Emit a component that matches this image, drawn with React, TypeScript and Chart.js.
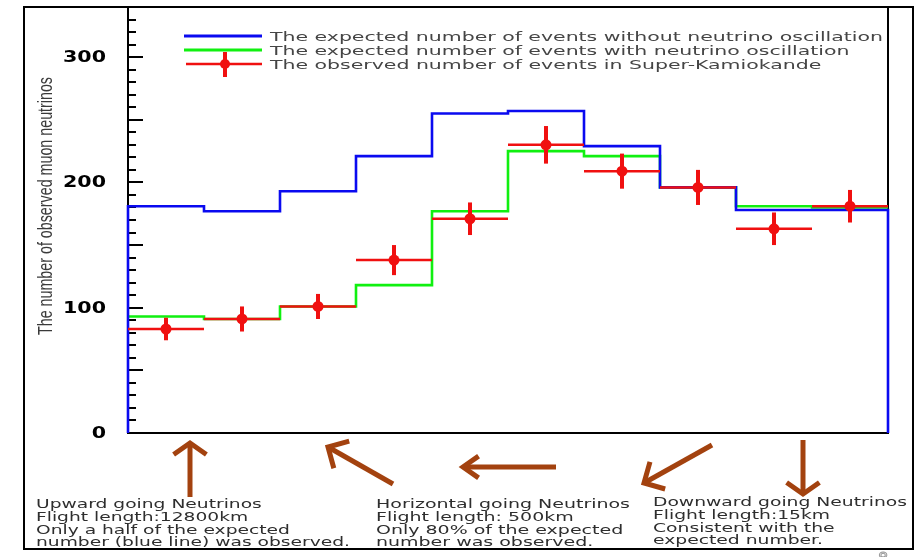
import React, { useEffect, useRef } from "react";
import { Chart, registerables } from "chart.js";

Chart.register(...registerables);

// ---- data (10 zenith-angle bins, upward -> downward) ----
const binLabels = ["1", "2", "3", "4", "5", "6", "7", "8", "9", "10"];
const expectedNoOsc = [181, 177, 193, 221, 255, 257, 229, 196, 178, 178];
const expectedOsc = [93, 91, 101, 118, 177, 225, 221, 196, 181, 180];
const observed = [83, 91, 101, 138, 171, 230, 209, 196, 163, 181];
const observedErr = [9, 10, 10, 12, 13, 15, 14, 14, 13, 13];
const yTickLabels = [0, 100, 200, 300];
const yMax = 340;

const legendLabels = [
  "The expected number of events without neutrino oscillation",
  "The expected number of events with neutrino oscillation",
  "The observed number of events in Super-Kamiokande",
];
const yTitle = "The number of observed muon neutrinos";

const noteUp = [
  "Upward going Neutrinos",
  "Flight length:12800km",
  "Only a half of the expected",
  "number (blue line) was observed.",
];
const noteHorizontal = [
  "Horizontal going Neutrinos",
  "Flight length: 500km",
  "Only 80% of the expected",
  "number was observed.",
];
const noteDown = [
  "Downward going Neutrinos",
  "Flight length:15km",
  "Consistent with the",
  "expected number.",
];

// ---- styles / layout ----
const BLUE = "#0a0af0";
const GREEN = "#10f010";
const RED = "#f01010";
const BROWN = "#a3420f";

const noteBlocks = [
  { lines: noteUp, x: 36, base: 508, ref: 3, width: 314 },
  { lines: noteHorizontal, x: 376, base: 508, ref: 0, width: 254 },
  { lines: noteDown, x: 653, base: 506, ref: 0, width: 254 },
];
// tail x, tail y, tip x, tip y, half-angle (deg), arm length
const arrows = [
  [190, 497, 190, 443, 55, 20],
  [393, 484, 328, 447, 45, 22],
  [556, 467, 463, 467, 35, 19],
  [712, 445, 644, 483, 45, 22],
  [803, 440, 803, 494, 55, 20],
];

function stretchedText(
  ctx: CanvasRenderingContext2D,
  text: string,
  x: number,
  y: number,
  sx: number,
  align: CanvasTextAlign = "left"
) {
  ctx.save();
  ctx.translate(x, y);
  ctx.scale(sx, 1);
  ctx.textAlign = align;
  ctx.fillText(text, 0, 0);
  ctx.restore();
}

const decorPlugin = {
  id: "decor",
  beforeDraw(chart: any) {
    const ctx = chart.ctx as CanvasRenderingContext2D;
    ctx.save();
    ctx.fillStyle = "#ffffff";
    ctx.fillRect(0, 0, chart.width, chart.height);
    ctx.restore();
  },
  beforeDatasetsDraw(chart: any) {
    const ctx = chart.ctx as CanvasRenderingContext2D;
    const { left, right, top, bottom } = chart.chartArea;
    const y = chart.scales.y;
    ctx.save();
    // axes box
    ctx.strokeStyle = "#000";
    ctx.lineWidth = 2;
    ctx.beginPath();
    ctx.moveTo(left, top);
    ctx.lineTo(left, bottom);
    ctx.lineTo(right, bottom);
    ctx.lineTo(right, top);
    ctx.stroke();
    // inward ticks
    ctx.lineWidth = 2;
    for (let v = 10; v < yMax; v += 10) {
      const py = Math.round(y.getPixelForValue(v));
      const len = v % 50 === 0 ? 15 : 8;
      ctx.beginPath();
      ctx.moveTo(left, py);
      ctx.lineTo(left + len, py);
      ctx.stroke();
    }
    // tick labels
    ctx.fillStyle = "#000";
    ctx.font = "bold 15px 'DejaVu Sans'";
    ctx.textBaseline = "middle";
    const lblScale = 43 / ctx.measureText("300").width;
    yTickLabels.forEach((v) => {
      stretchedText(ctx, String(v), left - 22, y.getPixelForValue(v) + 1, lblScale, "right");
    });
    // y title
    ctx.font = "21px 'Liberation Sans'";
    ctx.fillStyle = "#3a3a3a";
    ctx.textBaseline = "alphabetic";
    const tw = ctx.measureText(yTitle).width;
    ctx.translate(52, 206);
    ctx.rotate(-Math.PI / 2);
    ctx.scale(258 / tw, 1);
    ctx.textAlign = "center";
    ctx.fillText(yTitle, 0, 0);
    ctx.restore();
  },
  afterDatasetsDraw(chart: any) {
    const ctx = chart.ctx as CanvasRenderingContext2D;
    const xs = chart.scales.x;
    const ys = chart.scales.y;
    ctx.save();
    // error bars for observed
    ctx.strokeStyle = RED;
    ctx.fillStyle = RED;
    observed.forEach((v, i) => {
      const x0 = xs.getPixelForValue(i);
      const x1 = xs.getPixelForValue(i + 1);
      const xc = xs.getPixelForValue(i + 0.5);
      const yc = ys.getPixelForValue(v);
      ctx.lineWidth = 2.5;
      ctx.beginPath();
      ctx.moveTo(x0, yc);
      ctx.lineTo(x1, yc);
      ctx.stroke();
      ctx.lineWidth = 4;
      ctx.beginPath();
      ctx.moveTo(xc, ys.getPixelForValue(v + observedErr[i]));
      ctx.lineTo(xc, ys.getPixelForValue(v - observedErr[i]));
      ctx.stroke();
      ctx.beginPath();
      ctx.arc(xc, yc, 5.5, 0, Math.PI * 2);
      ctx.fill();
    });

    // legend
    const colors = [BLUE, GREEN, RED];
    const rowsY = [36, 50, 64];
    ctx.font = "13px 'DejaVu Sans'";
    const lscale = 613 / ctx.measureText(legendLabels[0]).width;
    legendLabels.forEach((t, i) => {
      ctx.strokeStyle = colors[i];
      ctx.lineWidth = i === 2 ? 2.5 : 3;
      ctx.beginPath();
      ctx.moveTo(i === 2 ? 186 : 184, rowsY[i]);
      ctx.lineTo(262, rowsY[i]);
      ctx.stroke();
      if (i === 2) {
        ctx.lineWidth = 4;
        ctx.beginPath();
        ctx.moveTo(225, rowsY[i] - 12);
        ctx.lineTo(225, rowsY[i] + 13);
        ctx.stroke();
        ctx.fillStyle = RED;
        ctx.beginPath();
        ctx.arc(225, rowsY[i], 5, 0, Math.PI * 2);
        ctx.fill();
      }
      ctx.fillStyle = "#454545";
      ctx.textBaseline = "alphabetic";
      stretchedText(ctx, t, 270, rowsY[i] + 4.8, lscale);
    });

    // arrows
    ctx.strokeStyle = BROWN;
    ctx.lineWidth = 5;
    ctx.lineCap = "butt";
    arrows.forEach(([tx, ty, hx, hy, ang, len]) => {
      ctx.beginPath();
      ctx.moveTo(tx, ty);
      ctx.lineTo(hx, hy);
      ctx.stroke();
      const dir = Math.atan2(ty - hy, tx - hx);
      const a = (ang * Math.PI) / 180;
      ctx.beginPath();
      ctx.moveTo(hx + Math.cos(dir + a) * len, hy + Math.sin(dir + a) * len);
      ctx.lineTo(hx, hy);
      ctx.lineTo(hx + Math.cos(dir - a) * len, hy + Math.sin(dir - a) * len);
      ctx.stroke();
    });

    // notes
    ctx.fillStyle = "#2e2e2e";
    ctx.font = "12px 'DejaVu Sans'";
    ctx.textBaseline = "alphabetic";
    noteBlocks.forEach((b) => {
      const s = b.width / ctx.measureText(b.lines[b.ref]).width;
      b.lines.forEach((t, i) => {
        stretchedText(ctx, t, b.x, b.base + i * 12.8, s);
      });
    });

    // outer frame
    ctx.strokeStyle = "#000";
    ctx.lineWidth = 2;
    ctx.strokeRect(24, 7, 889, 542);

    // page number (cut off at bottom)
    ctx.strokeStyle = "#999";
    ctx.lineWidth = 1;
    ctx.font = "16px 'DejaVu Sans'";
    ctx.textAlign = "center";
    ctx.strokeText("8", 883, 564);
    ctx.restore();
  },
};

export default function App() {
  const ref = useRef<HTMLCanvasElement | null>(null);
  useEffect(() => {
    document.body.style.margin = "0";
    const canvas = ref.current!;
    const n = binLabels.length;
    const blueData = [
      { x: 0, y: 0 },
      ...expectedNoOsc.map((v, i) => ({ x: i, y: v })),
      { x: n, y: expectedNoOsc[n - 1] },
      { x: n, y: 0 },
    ];
    const greenData = [
      ...expectedOsc.map((v, i) => ({ x: i, y: v })),
      { x: n, y: expectedOsc[n - 1] },
    ];
    const chart = new Chart(canvas, {
      type: "line",
      data: {
        datasets: [
          {
            label: legendLabels[0],
            data: blueData,
            stepped: "before",
            borderColor: BLUE,
            borderWidth: 2.6,
            pointRadius: 0,
            fill: false,
            clip: false as any,
          },
          {
            label: legendLabels[1],
            data: greenData,
            stepped: "before",
            borderColor: GREEN,
            borderWidth: 2.6,
            pointRadius: 0,
            fill: false,
            clip: false as any,
          },
        ],
      },
      options: {
        animation: false,
        responsive: false,
        events: [],
        layout: { padding: { left: 128, right: 32, top: 7, bottom: 124 } },
        plugins: { legend: { display: false }, tooltip: { enabled: false } },
        scales: {
          x: { type: "linear", min: 0, max: n, display: false },
          y: { type: "linear", min: 0, max: yMax, display: false },
        },
      },
      plugins: [decorPlugin],
    });
    return () => chart.destroy();
  }, []);
  return (
    <div style={{ width: 920, height: 557, background: "#fff" }}>
      <canvas ref={ref} width={920} height={557} style={{ width: 920, height: 557, display: "block" }} />
    </div>
  );
}
